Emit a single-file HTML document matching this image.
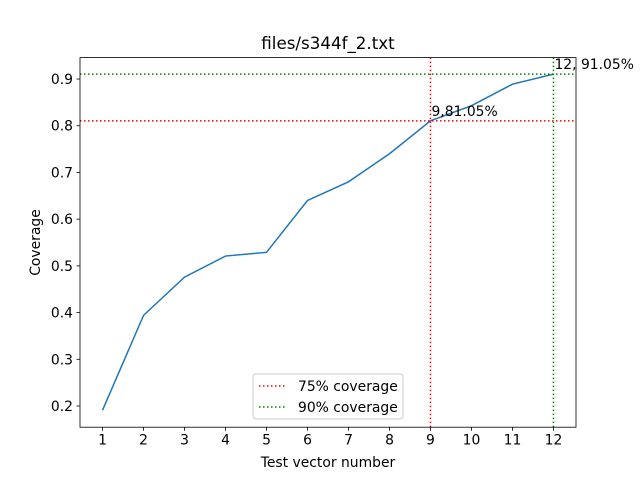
<!DOCTYPE html>
<html><head><meta charset="utf-8"><style>body{margin:0;background:#fff}svg{font-family:"DejaVu Sans","Liberation Sans",sans-serif}</style></head>
<body>
<svg id="chart" width="640" height="480" xmlns="http://www.w3.org/2000/svg">
<rect width="640" height="480" fill="#fff"/>
<text x="328" y="49" font-size="16.7" text-anchor="middle">files/s344f_2.txt</text>
<g id="plot"></g>
<text x="328" y="467" font-size="13.9" text-anchor="middle">Test vector number</text>
<text transform="translate(40,242.5) rotate(-90)" font-size="13.9" text-anchor="middle">Coverage</text>
</svg>
<script>
const categories=[1,2,3,4,5,6,7,8,9,10,11,12];
const coverage=[0.191,0.394,0.476,0.521,0.529,0.640,0.680,0.740,0.8105,0.843,0.889,0.9105];
const yTicks=[0.2,0.3,0.4,0.5,0.6,0.7,0.8,0.9];
const mark75=[9,0.8105];
const mark90=[12,0.9105];
const L=80,R=576,T=57.6,B=427.2;
const xmin=0.45,xmax=12.55,ymin=0.1546,ymax=0.9459;
const X=v=>L+(v-xmin)/(xmax-xmin)*(R-L);
const Y=v=>B-(v-ymin)/(ymax-ymin)*(B-T);
const NS="http://www.w3.org/2000/svg";
const g=document.getElementById('plot');
function el(t,a,p){const e=document.createElementNS(NS,t);for(const k in a)e.setAttribute(k,a[k]);(p||g).appendChild(e);return e;}
categories.forEach(c=>{
 const t=el('line',{x1:X(c),x2:X(c),y1:B,y2:B+3.5,stroke:'#000','stroke-width':0.8});
 
 
 const l=el('text',{x:X(c),y:B+17.5,'font-size':13.9,'text-anchor':'middle'});l.textContent=c;
 
 
});
yTicks.forEach(v=>{
 const t=el('line',{x1:L-3.5,x2:L,y1:Y(v),y2:Y(v),stroke:'#000','stroke-width':0.8});
 
 
 const l=el('text',{x:L-7,y:Y(v)+5,'font-size':13.9,'text-anchor':'end'});l.textContent=v.toFixed(1);
 
 
});
const line=el('polyline',{points:categories.map((c,i)=>X(c)+','+Y(coverage[i])).join(' '),fill:'none',stroke:'#1f77b4','stroke-width':1.5});


function marker(m,col,name,label){
 const h=el('line',{x1:L,x2:R,y1:Y(m[1]),y2:Y(m[1]),stroke:col,'stroke-width':1.5,'stroke-dasharray':'1.5,2.5'});
 
 
 const v=el('line',{x1:X(m[0]),x2:X(m[0]),y1:T,y2:B,stroke:col,'stroke-width':1.5,'stroke-dasharray':'1.5,2.5'});
 
 
 const t=el('text',{x:X(m[0])+1,y:Y(m[1])-5,'font-size':13.9});t.textContent=label;
 
 
}
marker(mark75,'red','coverage-75',mark75[0]+','+(mark75[1]*100).toFixed(2)+'%');
marker(mark90,'green','coverage-90',mark90[0]+', '+(mark90[1]*100).toFixed(2)+'%');
const fr=el('rect',{x:L,y:T,width:R-L,height:B-T,fill:'none',stroke:'#000','stroke-width':0.8});


const lg=el('g',{});


el('rect',{x:253,y:374,width:150,height:45,rx:3,fill:'#fff','fill-opacity':0.8,stroke:'#ccc'},lg);
[['red','75% coverage',386],['green','90% coverage',407]].forEach(([c,t,y])=>{
 const e=el('g',{},lg);
 
 
 el('line',{x1:259,x2:287,y1:y,y2:y,stroke:c,'stroke-width':1.5,'stroke-dasharray':'1.5,2.5'},e);
 const tx=el('text',{x:298,y:y+5,'font-size':13.9},e);tx.textContent=t;
});
</script>
</body></html>
